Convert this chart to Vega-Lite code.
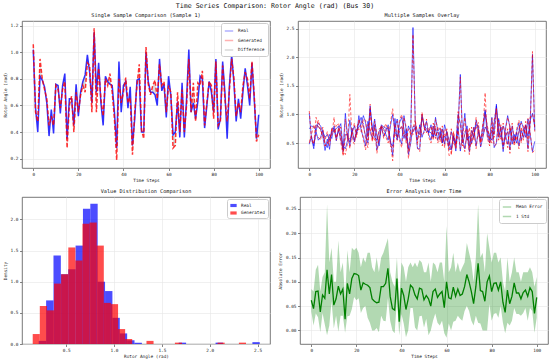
{
  "$schema": "https://vega.github.io/schema/vega-lite/v6.json",
  "background": "white",
  "padding": {"left": 1, "top": 2, "right": 1, "bottom": 2},
  "title": {"text": "Time Series Comparison: Rotor Angle (rad) (Bus 30)", "fontSize": 6.6, "font": "DejaVu Sans Mono", "fontWeight": "normal", "anchor": "middle", "offset": 3, "color": "#111"},
  "datasets": {
    "ts": [
      {"t":0,"r1":1.02,"g1":1.06,"r2":0.75,"g2":0.50,"r3":0.48,"g3":0.55,"e":0.062,"lo":0.039,"hi":0.085},
      {"t":1,"r1":0.58,"g1":0.55,"r2":0.80,"g2":0.65,"r3":0.62,"g3":0.58,"e":0.045,"lo":0.010,"hi":0.08},
      {"t":2,"r1":0.40,"g1":0.48,"r2":0.78,"g2":0.82,"r3":0.45,"g3":0.50,"e":0.080,"lo":0.035,"hi":0.125},
      {"t":3,"r1":0.82,"g1":0.95,"r2":0.72,"g2":0.70,"r3":0.70,"g3":0.65,"e":0.081,"lo":0.027,"hi":0.135},
      {"t":4,"r1":0.79,"g1":0.80,"r2":0.85,"g2":0.90,"r3":0.55,"g3":0.60,"e":0.038,"lo":-0.004,"hi":0.08},
      {"t":5,"r1":0.74,"g1":0.72,"r2":0.80,"g2":0.75,"r3":0.60,"g3":0.55,"e":0.073,"lo":0.036,"hi":0.11},
      {"t":6,"r1":0.62,"g1":0.65,"r2":0.70,"g2":0.62,"r3":0.72,"g3":0.78,"e":0.066,"lo":0.012,"hi":0.12},
      {"t":7,"r1":0.37,"g1":0.45,"r2":0.60,"g2":0.55,"r3":0.50,"g3":0.45,"e":0.125,"lo":-0.010,"hi":0.26},
      {"t":8,"r1":0.57,"g1":0.52,"r2":0.65,"g2":0.70,"r3":0.42,"g3":0.48,"e":0.075,"lo":0.010,"hi":0.14},
      {"t":9,"r1":0.39,"g1":0.45,"r2":0.55,"g2":0.50,"r3":0.65,"g3":0.60,"e":0.115,"lo":0.060,"hi":0.17},
      {"t":10,"r1":0.76,"g1":0.75,"r2":0.70,"g2":0.75,"r3":0.58,"g3":0.62,"e":0.052,"lo":0.004,"hi":0.10},
      {"t":11,"r1":0.75,"g1":0.72,"r2":0.72,"g2":0.68,"r3":0.80,"g3":0.95,"e":0.065,"lo":0.030,"hi":0.10},
      {"t":12,"r1":0.54,"g1":0.58,"r2":0.75,"g2":0.80,"r3":0.60,"g3":0.55,"e":0.091,"lo":-0.003,"hi":0.185},
      {"t":13,"r1":0.75,"g1":0.72,"r2":0.80,"g2":0.85,"r3":0.72,"g3":0.78,"e":0.075,"lo":0.030,"hi":0.12},
      {"t":14,"r1":0.84,"g1":0.78,"r2":0.65,"g2":0.60,"r3":0.55,"g3":0.50,"e":0.085,"lo":0.030,"hi":0.14},
      {"t":15,"r1":0.35,"g1":0.28,"r2":0.45,"g2":0.38,"r3":0.38,"g3":0.30,"e":0.023,"lo":-0.005,"hi":0.065},
      {"t":16,"r1":0.65,"g1":0.60,"r2":0.40,"g2":0.30,"r3":1.02,"g3":0.92,"e":0.097,"lo":0.029,"hi":0.165},
      {"t":17,"r1":0.65,"g1":0.67,"r2":0.55,"g2":0.50,"r3":0.60,"g3":0.55,"e":0.075,"lo":0.030,"hi":0.12},
      {"t":18,"r1":0.45,"g1":0.40,"r2":0.90,"g2":1.35,"r3":0.52,"g3":0.58,"e":0.107,"lo":0.044,"hi":0.17},
      {"t":19,"r1":0.76,"g1":0.70,"r2":0.60,"g2":0.55,"r3":0.70,"g3":0.65,"e":0.117,"lo":0.069,"hi":0.165},
      {"t":20,"r1":0.52,"g1":0.55,"r2":0.55,"g2":0.48,"r3":0.80,"g3":0.85,"e":0.116,"lo":0.062,"hi":0.17},
      {"t":21,"r1":0.70,"g1":0.68,"r2":0.70,"g2":0.75,"r3":0.65,"g3":0.60,"e":0.113,"lo":0.066,"hi":0.16},
      {"t":22,"r1":0.78,"g1":0.75,"r2":0.85,"g2":0.90,"r3":0.98,"g3":0.90,"e":0.083,"lo":0.036,"hi":0.13},
      {"t":23,"r1":0.83,"g1":0.70,"r2":0.95,"g2":0.88,"r3":0.72,"g3":0.78,"e":0.098,"lo":0.046,"hi":0.15},
      {"t":24,"r1":0.98,"g1":0.92,"r2":0.80,"g2":0.85,"r3":0.60,"g3":0.55,"e":0.095,"lo":0.050,"hi":0.14},
      {"t":25,"r1":0.85,"g1":0.90,"r2":0.62,"g2":0.55,"r3":0.45,"g3":0.38,"e":0.093,"lo":0.026,"hi":0.16},
      {"t":26,"r1":0.62,"g1":0.55,"r2":0.50,"g2":0.42,"r3":0.88,"g3":0.82,"e":0.088,"lo":0.016,"hi":0.16},
      {"t":27,"r1":1.15,"g1":1.18,"r2":1.10,"g2":1.05,"r3":0.70,"g3":0.75,"e":0.065,"lo":0.000,"hi":0.13},
      {"t":28,"r1":0.70,"g1":0.55,"r2":0.75,"g2":0.70,"r3":0.58,"g3":0.52,"e":0.060,"lo":0.000,"hi":0.12},
      {"t":29,"r1":0.92,"g1":0.88,"r2":0.60,"g2":0.55,"r3":0.82,"g3":0.78,"e":0.057,"lo":0.005,"hi":0.15},
      {"t":30,"r1":0.62,"g1":0.65,"r2":0.55,"g2":0.50,"r3":0.38,"g3":0.32,"e":0.058,"lo":-0.004,"hi":0.12},
      {"t":31,"r1":0.45,"g1":0.52,"r2":0.70,"g2":0.75,"r3":0.55,"g3":0.60,"e":0.090,"lo":0.030,"hi":0.15},
      {"t":32,"r1":0.82,"g1":0.80,"r2":0.80,"g2":0.78,"r3":0.78,"g3":0.82,"e":0.090,"lo":0.020,"hi":0.16},
      {"t":33,"r1":0.78,"g1":0.75,"r2":0.75,"g2":0.70,"r3":0.62,"g3":0.58,"e":0.097,"lo":0.019,"hi":0.175},
      {"t":34,"r1":0.76,"g1":0.84,"r2":0.65,"g2":0.60,"r3":0.70,"g3":0.75,"e":0.128,"lo":0.066,"hi":0.19},
      {"t":35,"r1":0.75,"g1":0.70,"r2":0.55,"g2":0.50,"r3":0.82,"g3":0.78,"e":0.070,"lo":0.020,"hi":0.12},
      {"t":36,"r1":0.55,"g1":0.50,"r2":0.80,"g2":0.85,"r3":0.50,"g3":0.45,"e":0.045,"lo":0.000,"hi":0.10},
      {"t":37,"r1":0.28,"g1":0.19,"r2":1.00,"g2":1.10,"r3":0.45,"g3":0.40,"e":0.042,"lo":-0.006,"hi":0.09},
      {"t":38,"r1":0.93,"g1":0.80,"r2":0.70,"g2":0.65,"r3":0.75,"g3":0.80,"e":0.107,"lo":0.064,"hi":0.15},
      {"t":39,"r1":0.55,"g1":0.62,"r2":0.60,"g2":0.55,"r3":0.92,"g3":0.88,"e":0.018,"lo":-0.010,"hi":0.06},
      {"t":40,"r1":0.75,"g1":0.70,"r2":0.85,"g2":0.90,"r3":0.60,"g3":0.55,"e":0.087,"lo":0.034,"hi":0.14},
      {"t":41,"r1":0.78,"g1":0.81,"r2":0.95,"g2":1.00,"r3":0.48,"g3":0.42,"e":0.072,"lo":0.014,"hi":0.13},
      {"t":42,"r1":0.58,"g1":0.62,"r2":0.75,"g2":0.70,"r3":0.98,"g3":0.95,"e":0.043,"lo":-0.014,"hi":0.10},
      {"t":43,"r1":0.74,"g1":0.66,"r2":0.55,"g2":0.50,"r3":0.72,"g3":0.78,"e":0.065,"lo":0.000,"hi":0.13},
      {"t":44,"r1":0.30,"g1":0.23,"r2":0.80,"g2":0.75,"r3":0.40,"g3":0.35,"e":0.093,"lo":0.046,"hi":0.14},
      {"t":45,"r1":0.50,"g1":0.55,"r2":0.70,"g2":0.65,"r3":0.65,"g3":0.70,"e":0.088,"lo":0.046,"hi":0.13},
      {"t":46,"r1":0.79,"g1":0.75,"r2":2.52,"g2":2.40,"r3":0.70,"g3":0.65,"e":0.073,"lo":0.006,"hi":0.14},
      {"t":47,"r1":0.80,"g1":0.91,"r2":0.85,"g2":0.90,"r3":0.78,"g3":0.82,"e":0.065,"lo":0.000,"hi":0.13},
      {"t":48,"r1":0.40,"g1":0.42,"r2":0.70,"g2":0.65,"r3":0.55,"g3":0.50,"e":0.087,"lo":0.029,"hi":0.145},
      {"t":49,"r1":0.40,"g1":0.35,"r2":0.65,"g2":0.60,"r3":0.82,"g3":0.78,"e":0.085,"lo":0.030,"hi":0.14},
      {"t":50,"r1":1.00,"g1":1.04,"r2":0.95,"g2":1.00,"r3":0.60,"g3":0.65,"e":0.063,"lo":0.006,"hi":0.12},
      {"t":51,"r1":0.78,"g1":0.76,"r2":0.80,"g2":0.75,"r3":0.72,"g3":0.68,"e":0.072,"lo":0.024,"hi":0.12},
      {"t":52,"r1":0.70,"g1":0.68,"r2":0.75,"g2":0.70,"r3":0.88,"g3":0.92,"e":0.065,"lo":-0.010,"hi":0.14},
      {"t":53,"r1":0.70,"g1":0.75,"r2":0.68,"g2":0.72,"r3":0.65,"g3":0.60,"e":0.050,"lo":0.000,"hi":0.10},
      {"t":54,"r1":0.68,"g1":0.79,"r2":0.82,"g2":0.78,"r3":0.55,"g3":0.50,"e":0.080,"lo":0.020,"hi":0.14},
      {"t":55,"r1":0.60,"g1":0.65,"r2":0.60,"g2":0.55,"r3":0.80,"g3":0.85,"e":0.085,"lo":0.035,"hi":0.135},
      {"t":56,"r1":0.95,"g1":0.91,"r2":0.75,"g2":0.80,"r3":0.62,"g3":0.58,"e":0.068,"lo":0.016,"hi":0.12},
      {"t":57,"r1":0.71,"g1":0.75,"r2":0.55,"g2":0.50,"r3":0.70,"g3":0.75,"e":0.075,"lo":0.010,"hi":0.14},
      {"t":58,"r1":0.76,"g1":0.78,"r2":0.70,"g2":0.65,"r3":0.58,"g3":0.52,"e":0.080,"lo":0.020,"hi":0.14},
      {"t":59,"r1":0.51,"g1":0.55,"r2":0.50,"g2":0.45,"r3":0.75,"g3":0.80,"e":0.047,"lo":-0.006,"hi":0.10},
      {"t":60,"r1":0.82,"g1":0.75,"r2":0.62,"g2":0.68,"r3":0.48,"g3":0.42,"e":0.100,"lo":-0.015,"hi":0.215},
      {"t":61,"r1":0.68,"g1":0.70,"r2":0.58,"g2":0.55,"r3":0.70,"g3":0.75,"e":0.067,"lo":0.014,"hi":0.12},
      {"t":62,"r1":0.38,"g1":0.28,"r2":0.45,"g2":0.40,"r3":0.55,"g3":0.50,"e":0.065,"lo":0.000,"hi":0.13},
      {"t":63,"r1":0.40,"g1":0.30,"r2":0.70,"g2":0.75,"r3":0.38,"g3":0.30,"e":0.089,"lo":0.018,"hi":0.16},
      {"t":64,"r1":0.63,"g1":0.70,"r2":0.55,"g2":0.50,"r3":0.62,"g3":0.68,"e":0.070,"lo":0.020,"hi":0.12},
      {"t":65,"r1":0.36,"g1":0.40,"r2":0.48,"g2":0.42,"r3":0.50,"g3":0.45,"e":0.085,"lo":0.030,"hi":0.14},
      {"t":66,"r1":0.77,"g1":0.72,"r2":1.00,"g2":1.05,"r3":0.78,"g3":0.72,"e":0.072,"lo":0.024,"hi":0.12},
      {"t":67,"r1":0.36,"g1":0.40,"r2":0.85,"g2":0.80,"r3":1.70,"g3":1.65,"e":0.075,"lo":0.020,"hi":0.13},
      {"t":68,"r1":0.65,"g1":0.60,"r2":0.50,"g2":0.45,"r3":0.58,"g3":0.52,"e":0.090,"lo":0.040,"hi":0.14},
      {"t":69,"r1":1.02,"g1":0.95,"r2":0.65,"g2":0.70,"r3":0.40,"g3":0.35,"e":0.115,"lo":0.050,"hi":0.18},
      {"t":70,"r1":0.55,"g1":0.55,"r2":0.80,"g2":0.75,"r3":0.68,"g3":0.72,"e":0.100,"lo":0.040,"hi":0.16},
      {"t":71,"r1":0.62,"g1":0.77,"r2":0.45,"g2":0.40,"r3":0.35,"g3":0.30,"e":0.080,"lo":0.020,"hi":0.14},
      {"t":72,"r1":0.50,"g1":0.48,"r2":0.72,"g2":0.78,"r3":0.60,"g3":0.65,"e":0.055,"lo":0.010,"hi":0.10},
      {"t":73,"r1":0.63,"g1":0.77,"r2":0.60,"g2":0.55,"r3":0.78,"g3":0.72,"e":0.090,"lo":0.030,"hi":0.15},
      {"t":74,"r1":0.82,"g1":0.75,"r2":0.90,"g2":0.95,"r3":0.45,"g3":0.40,"e":0.138,"lo":0.016,"hi":0.26},
      {"t":75,"r1":0.80,"g1":0.86,"r2":0.70,"g2":0.65,"r3":0.70,"g3":0.75,"e":0.082,"lo":0.014,"hi":0.15},
      {"t":76,"r1":0.43,"g1":0.45,"r2":0.55,"g2":0.50,"r3":0.58,"g3":0.52,"e":0.080,"lo":0.000,"hi":0.16},
      {"t":77,"r1":0.60,"g1":0.62,"r2":0.80,"g2":0.85,"r3":0.65,"g3":0.70,"e":0.060,"lo":0.000,"hi":0.12},
      {"t":78,"r1":0.78,"g1":0.78,"r2":1.08,"g2":1.00,"r3":1.05,"g3":1.38,"e":0.100,"lo":0.000,"hi":0.20},
      {"t":79,"r1":0.70,"g1":0.75,"r2":0.75,"g2":0.80,"r3":0.62,"g3":0.58,"e":0.112,"lo":0.054,"hi":0.17},
      {"t":80,"r1":0.55,"g1":0.50,"r2":0.62,"g2":0.58,"r3":0.50,"g3":0.45,"e":0.080,"lo":0.020,"hi":0.14},
      {"t":81,"r1":0.95,"g1":0.93,"r2":0.55,"g2":0.50,"r3":0.72,"g3":0.78,"e":0.097,"lo":0.034,"hi":0.16},
      {"t":82,"r1":0.42,"g1":0.45,"r2":0.85,"g2":0.90,"r3":0.65,"g3":0.60,"e":0.098,"lo":0.036,"hi":0.16},
      {"t":83,"r1":0.50,"g1":0.48,"r2":1.15,"g2":1.10,"r3":1.18,"g3":1.10,"e":0.083,"lo":0.026,"hi":0.14},
      {"t":84,"r1":0.93,"g1":0.90,"r2":0.70,"g2":0.65,"r3":0.60,"g3":0.55,"e":0.100,"lo":0.050,"hi":0.15},
      {"t":85,"r1":0.70,"g1":0.65,"r2":0.60,"g2":0.55,"r3":0.78,"g3":0.82,"e":0.058,"lo":0.016,"hi":0.10},
      {"t":86,"r1":0.35,"g1":0.48,"r2":0.80,"g2":0.85,"r3":0.45,"g3":0.40,"e":0.037,"lo":-0.006,"hi":0.08},
      {"t":87,"r1":0.75,"g1":0.72,"r2":0.65,"g2":0.60,"r3":0.62,"g3":0.58,"e":0.083,"lo":0.016,"hi":0.15},
      {"t":88,"r1":0.98,"g1":0.95,"r2":0.48,"g2":0.42,"r3":0.70,"g3":0.75,"e":0.055,"lo":0.010,"hi":0.10},
      {"t":89,"r1":0.77,"g1":0.80,"r2":0.75,"g2":0.80,"r3":0.38,"g3":0.32,"e":0.070,"lo":0.020,"hi":0.12},
      {"t":90,"r1":0.48,"g1":0.52,"r2":0.62,"g2":0.58,"r3":0.80,"g3":0.85,"e":0.098,"lo":0.046,"hi":0.15},
      {"t":91,"r1":0.65,"g1":0.62,"r2":0.50,"g2":0.45,"r3":0.55,"g3":0.50,"e":0.077,"lo":0.034,"hi":0.12},
      {"t":92,"r1":0.50,"g1":0.55,"r2":0.70,"g2":0.75,"r3":0.68,"g3":0.62,"e":0.077,"lo":0.034,"hi":0.12},
      {"t":93,"r1":0.70,"g1":0.75,"r2":0.85,"g2":0.90,"r3":0.45,"g3":0.40,"e":0.065,"lo":0.030,"hi":0.10},
      {"t":94,"r1":0.88,"g1":0.85,"r2":0.55,"g2":0.50,"r3":0.72,"g3":0.78,"e":0.078,"lo":0.036,"hi":0.12},
      {"t":95,"r1":0.75,"g1":0.80,"r2":0.72,"g2":0.78,"r3":0.60,"g3":0.55,"e":0.083,"lo":0.046,"hi":0.12},
      {"t":96,"r1":0.60,"g1":0.65,"r2":0.80,"g2":0.75,"r3":0.82,"g3":0.88,"e":0.070,"lo":0.020,"hi":0.12},
      {"t":97,"r1":0.92,"g1":0.93,"r2":0.62,"g2":0.55,"r3":0.40,"g3":0.35,"e":0.088,"lo":0.046,"hi":0.13},
      {"t":98,"r1":0.65,"g1":0.68,"r2":0.90,"g2":0.95,"r3":0.88,"g3":0.82,"e":0.080,"lo":0.040,"hi":0.12},
      {"t":99,"r1":0.35,"g1":0.33,"r2":1.02,"g2":1.00,"r3":2.05,"g3":2.10,"e":0.035,"lo":-0.005,"hi":0.09},
      {"t":100,"r1":0.53,"g1":0.38,"r2":0.78,"g2":0.80,"r3":0.72,"g3":0.70,"e":0.068,"lo":0.026,"hi":0.11}
    ],
    "hist": [
      {"k":"Real","x0":0.213,"x1":0.290,"d":0.05},
      {"k":"Real","x0":0.290,"x1":0.367,"d":0.70},
      {"k":"Real","x0":0.367,"x1":0.444,"d":1.42},
      {"k":"Real","x0":0.444,"x1":0.521,"d":1.12},
      {"k":"Real","x0":0.521,"x1":0.598,"d":1.20},
      {"k":"Real","x0":0.598,"x1":0.675,"d":1.58},
      {"k":"Real","x0":0.675,"x1":0.752,"d":2.17},
      {"k":"Real","x0":0.752,"x1":0.829,"d":2.25},
      {"k":"Real","x0":0.829,"x1":0.906,"d":1.00},
      {"k":"Real","x0":0.906,"x1":0.983,"d":0.85},
      {"k":"Real","x0":0.983,"x1":1.060,"d":0.42},
      {"k":"Real","x0":1.060,"x1":1.137,"d":0.17},
      {"k":"Real","x0":1.137,"x1":1.214,"d":0.06},
      {"k":"Real","x0":1.214,"x1":1.291,"d":0.02},
      {"k":"Real","x0":1.676,"x1":1.753,"d":0.022},
      {"k":"Real","x0":2.061,"x1":2.138,"d":0.022},
      {"k":"Real","x0":2.446,"x1":2.523,"d":0.03},
      {"k":"Generated","x0":0.150,"x1":0.224,"d":0.16},
      {"k":"Generated","x0":0.224,"x1":0.299,"d":0.61},
      {"k":"Generated","x0":0.299,"x1":0.373,"d":0.54},
      {"k":"Generated","x0":0.373,"x1":0.447,"d":0.97},
      {"k":"Generated","x0":0.447,"x1":0.522,"d":1.12},
      {"k":"Generated","x0":0.522,"x1":0.596,"d":1.55},
      {"k":"Generated","x0":0.596,"x1":0.670,"d":1.34},
      {"k":"Generated","x0":0.670,"x1":0.744,"d":1.93},
      {"k":"Generated","x0":0.744,"x1":0.819,"d":1.95},
      {"k":"Generated","x0":0.819,"x1":0.893,"d":1.58},
      {"k":"Generated","x0":0.893,"x1":0.967,"d":0.66},
      {"k":"Generated","x0":0.967,"x1":1.042,"d":0.64},
      {"k":"Generated","x0":1.042,"x1":1.116,"d":0.24},
      {"k":"Generated","x0":1.116,"x1":1.190,"d":0.08},
      {"k":"Generated","x0":1.339,"x1":1.413,"d":0.05},
      {"k":"Generated","x0":1.636,"x1":1.710,"d":0.022},
      {"k":"Generated","x0":2.082,"x1":2.156,"d":0.022},
      {"k":"Generated","x0":2.305,"x1":2.379,"d":0.022}
    ]
  },
  "spacing": 5,
  "resolve": {"scale": {"color": "independent"}, "legend": {"color": "independent"}},
  "vconcat": [
    {
      "spacing": 6,
      "resolve": {"scale": {"color": "independent"}, "legend": {"color": "independent"}},
      "hconcat": [
        {
          "width": 248, "height": 147,
          "title": "Single Sample Comparison (Sample 1)",
          "data": {"name": "ts"},
          "encoding": {
            "x": {"field": "t", "type": "quantitative", "scale": {"domain": [-5, 105], "nice": false, "zero": false}, "axis": {"values": [0, 20, 40, 60, 80, 100], "tickCount": 20, "title": "Time Steps", "labelOverlap": false}}
          },
          "layer": [
            {
              "mark": {"type": "area", "opacity": 0.3},
              "encoding": {
                "y": {"field": "r1", "type": "quantitative", "scale": {"domain": [0.13, 1.235], "nice": false, "zero": false}, "axis": {"values": [0.2, 0.4, 0.6, 0.8, 1.0, 1.2], "tickCount": 20, "format": ".1f", "title": "Rotor Angle (rad)", "labelOverlap": false}},
                "y2": {"field": "g1"},
                "color": {"datum": "Difference", "scale": {"domain": ["Real", "Generated", "Difference"], "range": ["#0000ff", "#ff0000", "#808080"]},
                  "legend": {"title": null, "orient": "top-right", "offset": 2, "padding": 3, "rowPadding": 1.5, "fillColor": "white", "strokeColor": "#cccccc", "cornerRadius": 2, "labelFontSize": 4.4, "labelFont": "DejaVu Sans Mono", "labelColor": "#222", "symbolSize": 70, "symbolStrokeWidth": 1.5, "symbolType": "stroke",
                    "encode": {"symbols": {"update": {
                      "shape": {"signal": "datum.value === 'Difference' ? 'M-1,-0.5L1,-0.5L1,0.5L-1,0.5Z' : 'stroke'"},
                      "fill": {"signal": "datum.value === 'Difference' ? '#cccccc' : 'transparent'"},
                      "stroke": {"signal": "datum.value === 'Real' ? '#3333ff' : datum.value === 'Generated' ? '#ff3333' : 'transparent'"},
                      "strokeDash": {"signal": "datum.value === 'Generated' ? [3, 1.5] : [1, 0]"},
                      "opacity": {"value": 1}
                    }}}}}
              }
            },
            {
              "mark": {"type": "line", "strokeWidth": 1.5, "opacity": 0.8},
              "encoding": {"y": {"field": "r1", "type": "quantitative", "axis": {"values": [0.2, 0.4, 0.6, 0.8, 1.0, 1.2], "tickCount": 20, "format": ".1f", "title": "Rotor Angle (rad)", "labelOverlap": false}}, "color": {"datum": "Real"}}
            },
            {
              "mark": {"type": "line", "strokeWidth": 1.5, "opacity": 0.8, "strokeDash": [4, 2]},
              "encoding": {"y": {"field": "g1", "type": "quantitative", "axis": {"values": [0.2, 0.4, 0.6, 0.8, 1.0, 1.2], "tickCount": 20, "format": ".1f", "title": "Rotor Angle (rad)", "labelOverlap": false}}, "color": {"datum": "Generated"}}
            }
          ]
        },
        {
          "width": 248, "height": 147,
          "title": "Multiple Samples Overlay",
          "data": {"name": "ts"},
          "encoding": {
            "x": {"field": "t", "type": "quantitative", "scale": {"domain": [-5, 105], "nice": false, "zero": false}, "axis": {"values": [0, 20, 40, 60, 80, 100], "tickCount": 20, "title": "Time Steps", "labelOverlap": false}}
          },
          "layer": [
            {
              "transform": [{"fold": ["r1", "r2", "r3"], "as": ["s", "v"]}],
              "mark": {"type": "line", "strokeWidth": 1, "opacity": 0.6, "color": "#0000ff"},
              "encoding": {
                "y": {"field": "v", "type": "quantitative", "scale": {"domain": [0.064, 2.634], "nice": false, "zero": false}, "axis": {"values": [0.5, 1.0, 1.5, 2.0, 2.5], "tickCount": 20, "format": ".1f", "title": "Rotor Angle (rad)", "labelOverlap": false}},
                "detail": {"field": "s"}
              }
            },
            {
              "transform": [{"fold": ["g1", "g2", "g3"], "as": ["s", "v"]}],
              "mark": {"type": "line", "strokeWidth": 1, "opacity": 0.6, "color": "#ff0000", "strokeDash": [3, 2]},
              "encoding": {
                "y": {"field": "v", "type": "quantitative", "axis": {"values": [0.5, 1.0, 1.5, 2.0, 2.5], "tickCount": 20, "format": ".1f", "title": "Rotor Angle (rad)", "labelOverlap": false}},
                "detail": {"field": "s"}
              }
            }
          ]
        }
      ]
    },
    {
      "spacing": 6,
      "resolve": {"scale": {"color": "independent"}, "legend": {"color": "independent"}},
      "hconcat": [
        {
          "width": 248, "height": 147,
          "title": "Value Distribution Comparison",
          "data": {"name": "hist"},
          "mark": {"type": "bar", "opacity": 0.7},
          "encoding": {
            "x": {"field": "x0", "type": "quantitative", "scale": {"domain": [0.038, 2.63], "nice": false, "zero": false}, "axis": {"values": [0.5, 1.0, 1.5, 2.0, 2.5], "tickCount": 20, "format": ".1f", "title": "Rotor Angle (rad)", "labelOverlap": false}},
            "x2": {"field": "x1"},
            "y": {"field": "d", "type": "quantitative", "scale": {"domain": [0, 2.36], "nice": false}, "axis": {"values": [0.0, 0.5, 1.0, 1.5, 2.0], "tickCount": 20, "format": ".1f", "title": "Density", "labelOverlap": false}},
            "y2": {"datum": 0},
            "color": {"field": "k", "type": "nominal", "sort": ["Real", "Generated"], "scale": {"domain": ["Real", "Generated"], "range": ["#0000ff", "#ff0000"]},
              "legend": {"title": null, "orient": "top-right", "offset": 2, "padding": 3, "rowPadding": 1.5, "fillColor": "white", "strokeColor": "#cccccc", "cornerRadius": 2, "labelFontSize": 4.4, "labelFont": "DejaVu Sans Mono", "labelColor": "#222", "symbolSize": 40, "symbolType": "M-1,-0.5L1,-0.5L1,0.5L-1,0.5Z", "symbolOpacity": 0.7, "symbolStrokeWidth": 0}}
          }
        },
        {
          "width": 248, "height": 147,
          "title": "Error Analysis Over Time",
          "data": {"name": "ts"},
          "encoding": {
            "x": {"field": "t", "type": "quantitative", "scale": {"domain": [-5, 105], "nice": false, "zero": false}, "axis": {"values": [0, 20, 40, 60, 80, 100], "tickCount": 20, "title": "Time Steps", "labelOverlap": false}}
          },
          "layer": [
            {
              "mark": {"type": "area", "opacity": 0.3},
              "encoding": {
                "y": {"field": "lo", "type": "quantitative", "scale": {"domain": [-0.028, 0.2747], "nice": false, "zero": false}, "axis": {"values": [0.0, 0.05, 0.1, 0.15, 0.2, 0.25], "tickCount": 20, "format": ".2f", "title": "Absolute Error", "labelOverlap": false}},
                "y2": {"field": "hi"},
                "color": {"datum": "1 Std", "scale": {"domain": ["Mean Error", "1 Std"], "range": ["#008000", "#008000"]},
                  "legend": {"title": null, "orient": "top-right", "offset": 2, "padding": 3, "rowPadding": 1.5, "fillColor": "white", "strokeColor": "#cccccc", "cornerRadius": 2, "labelFontSize": 4.4, "labelFont": "DejaVu Sans Mono", "labelColor": "#222", "symbolSize": 70, "symbolStrokeWidth": 1.5, "symbolType": "stroke",
                    "encode": {"symbols": {"update": {
                      "shape": {"signal": "datum.value === '1 Std' ? 'M-1,-0.5L1,-0.5L1,0.5L-1,0.5Z' : 'stroke'"},
                      "fill": {"signal": "datum.value === '1 Std' ? '#b3d9b3' : 'transparent'"},
                      "stroke": {"signal": "datum.value === '1 Std' ? 'transparent' : '#008000'"},
                      "opacity": {"value": 1}
                    }}}}}
              }
            },
            {
              "mark": {"type": "line", "strokeWidth": 1.3},
              "encoding": {"y": {"field": "e", "type": "quantitative", "axis": {"values": [0.0, 0.05, 0.1, 0.15, 0.2, 0.25], "tickCount": 20, "format": ".2f", "title": "Absolute Error", "labelOverlap": false}}, "color": {"datum": "Mean Error"}}
            }
          ]
        }
      ]
    }
  ],
  "config": {
    "font": "DejaVu Sans Mono",
    "view": {"stroke": "#555555", "strokeWidth": 0.8},
    "axis": {"domain": false, "grid": true, "gridColor": "#e6e6e6", "gridWidth": 0.6, "tickColor": "#333333", "tickSize": 2.5, "tickWidth": 0.6, "labelFontSize": 4.4, "labelColor": "#222222", "titleFontSize": 4.4, "titleFontWeight": "normal", "titleColor": "#222222", "labelPadding": 1.5, "titlePadding": 3, "labelFont": "DejaVu Sans Mono", "titleFont": "DejaVu Sans Mono", "labelOverlap": false},
    "title": {"fontSize": 5.2, "fontWeight": "normal", "font": "DejaVu Sans Mono", "offset": 3, "color": "#111111"}
  }
}
